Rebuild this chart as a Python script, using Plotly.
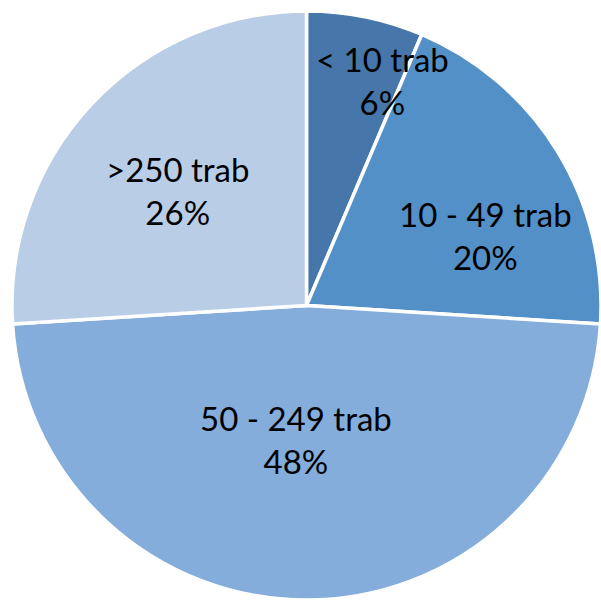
import plotly.graph_objects as go

categories = ["< 10 trab", "10 - 49 trab", "50 - 249 trab", ">250 trab"]
values = [6.4, 19.6, 48.0, 26.0]
colors = ["#4676AA", "#5490C8", "#84ADDB", "#B9CDE6"]

W, H = 601, 606
ML, MR, MT, MB = 12, 0, 8, 3

fig = go.Figure(go.Pie(
    labels=categories,
    values=values,
    sort=False,
    direction="clockwise",
    rotation=0,
    marker=dict(colors=colors, line=dict(color="white", width=3.5)),
    textinfo="none",
    hoverinfo="label+percent",
    showlegend=False,
))

# label block centres (pixels) for annotations
label_px = [(382, 80), (485, 236), (296, 439), (177, 190)]
pw, ph = W - ML - MR, H - MT - MB
total = sum(values)
for cat, v, (px, py) in zip(categories, values, label_px):
    pct = round(100 * v / total)
    fig.add_annotation(
        x=(px - ML) / pw, y=1 - (py - MT) / ph, xref="paper", yref="paper",
        xanchor="center", yanchor="middle",
        text=f"{cat}<br>{pct}%", showarrow=False,
        font=dict(family="Lato", size=33, color="black"),
        align="center",
    )

fig.update_layout(
    width=W, height=H,
    margin=dict(l=ML, r=MR, t=MT, b=MB),
    paper_bgcolor="white",
    plot_bgcolor="white",
)

fig.write_html("out.html")
